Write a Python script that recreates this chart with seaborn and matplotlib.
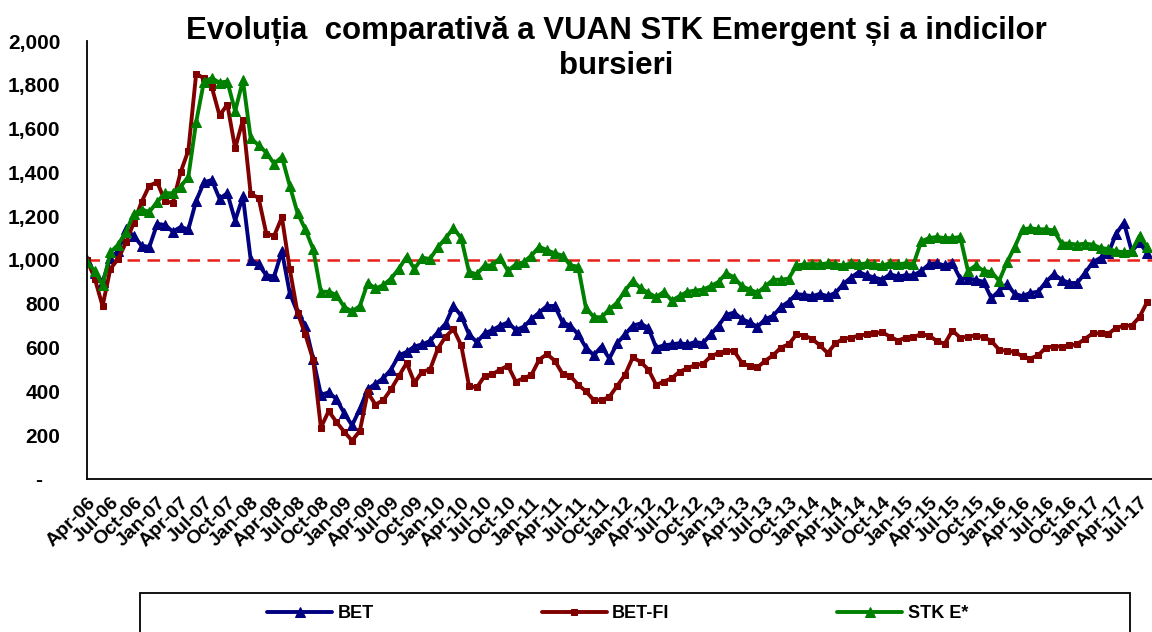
import matplotlib
matplotlib.use("Agg")
from matplotlib import pyplot as plt
from matplotlib.patches import Rectangle
from matplotlib.ticker import FuncFormatter
import pandas as pd
import seaborn as sns

# valori lunare, Apr-06 ... Aug-17
bet = [1000, 940, 900, 1010, 1040, 1140, 1110, 1065, 1060, 1165, 1160, 1130,
       1150, 1140, 1270, 1355, 1365, 1280, 1305, 1180, 1290, 1000, 980, 930,
       925, 1040, 850, 760, 700, 550, 385, 395, 365, 300, 245, 320,
       410, 435, 460, 500, 565, 580, 605, 615, 630, 670, 710, 790,
       745, 660, 625, 665, 680, 700, 715, 680, 695, 730, 760, 790,
       790, 715, 700, 660, 600, 565, 605, 550, 620, 660, 700, 710,
       690, 600, 610, 615, 620, 615, 625, 620, 660, 700, 750, 760,
       730, 715, 695, 730, 745, 785, 810, 845, 840, 835, 845, 835,
       850, 890, 920, 945, 930, 920, 910, 935, 925, 930, 930, 950,
       980, 985, 975, 985, 915, 915, 910, 900, 825, 860, 890, 845,
       835, 850, 855, 900, 935, 910, 895, 895, 940, 990, 1010, 1030,
       1120, 1170, 1040, 1080, 1030]

bet_fi = [1000, 915, 790, 960, 1005, 1080, 1170, 1265, 1340, 1355, 1270, 1260,
          1400, 1500, 1850, 1830, 1790, 1660, 1710, 1510, 1640, 1300, 1285, 1120,
          1110, 1195, 960, 760, 660, 545, 235, 310, 260, 215, 175, 220,
          395, 340, 360, 410, 470, 530, 440, 490, 500, 595, 650, 685,
          610, 425, 418, 470, 478, 500, 517, 445, 460, 475, 545, 570,
          540, 480, 470, 430, 400, 360, 360, 375, 425, 475, 555, 535,
          500, 430, 445, 460, 490, 505, 520, 525, 560, 575, 585, 585,
          530, 515, 510, 540, 565, 600, 615, 660, 655, 640, 610, 575,
          620, 640, 645, 655, 660, 665, 670, 650, 632, 645, 650, 660,
          655, 630, 617, 678, 645, 650, 655, 648, 630, 590, 585, 580,
          560, 550, 565, 600, 605, 605, 610, 615, 640, 665, 665, 663,
          690, 700, 700, 740, 810]

stk_e = [990, 950, 885, 1035, 1070, 1130, 1210, 1230, 1220, 1265, 1305, 1305,
         1335, 1380, 1630, 1815, 1830, 1810, 1815, 1680, 1820, 1555, 1525, 1490,
         1440, 1470, 1340, 1215, 1140, 1050, 855, 855, 840, 785, 765, 790,
         895, 870, 885, 915, 960, 1015, 960, 1010, 1005, 1058, 1100, 1145,
         1100, 945, 935, 975, 975, 1010, 950, 980, 990, 1020, 1060, 1045,
         1030, 1020, 975, 970, 780, 740, 738, 775, 805, 860, 905, 870,
         850, 830, 855, 815, 835, 855, 860, 865, 880, 900, 940, 920,
         880, 865, 850, 880, 910, 910, 915, 975, 980, 982, 980, 985,
         980, 975, 985, 980, 985, 980, 975, 985, 980, 985, 980, 1085,
         1100, 1105, 1100, 1100, 1105, 950, 975, 950, 945, 905, 990, 1060,
         1140, 1145, 1140, 1140, 1135, 1075, 1075, 1070, 1075, 1070, 1055, 1050,
         1040, 1035, 1040, 1110, 1060]

etichete = ["Apr-06", "Jul-06", "Oct-06", "Jan-07", "Apr-07", "Jul-07", "Oct-07",
            "Jan-08", "Apr-08", "Jul-08", "Oct-08", "Jan-09", "Apr-09", "Jul-09",
            "Oct-09", "Jan-10", "Apr-10", "Jul-10", "Oct-10", "Jan-11", "Apr-11",
            "Jul-11", "Oct-11", "Jan-12", "Apr-12", "Jul-12", "Oct-12", "Jan-13",
            "Apr-13", "Jul-13", "Oct-13", "Jan-14", "Apr-14", "Jul-14", "Oct-14",
            "Jan-15", "Apr-15", "Jul-15", "Oct-15", "Jan-16", "Apr-16", "Jul-16",
            "Oct-16", "Jan-17", "Apr-17", "Jul-17"]

df = pd.DataFrame({"luna": range(len(bet)), "BET": bet, "BET-FI": bet_fi, "STK E*": stk_e})

sns.set_style("white")
plt.rcParams["font.family"] = ["Liberation Sans", "DejaVu Sans"]
plt.rcParams["text.color"] = "black"
plt.rcParams["xtick.color"] = "black"
plt.rcParams["ytick.color"] = "black"

fig = plt.figure(figsize=(11.52, 6.32), dpi=100)
ax = fig.add_axes([87 / 1152, 1 - 479 / 632, 1 - 87 / 1152, (479 - 41) / 632])

stil = {"BET": ("#000080", "^", 6.5),
        "BET-FI": ("#800000", "s", 4.8),
        "STK E*": ("#008000", "^", 6.5)}
for nume, (culoare, marker, ms) in stil.items():
    sns.lineplot(data=df, x="luna", y=nume, ax=ax, color=culoare, marker=marker,
                 markersize=ms, markeredgecolor=culoare, linewidth=2.8, label=nume,
                 legend=False)

ax.axhline(1000, color="#e8201a", linestyle=(0, (5, 3)), linewidth=1.8, zorder=1)

ax.set_xlim(0, 136.6)
ax.set_ylim(0, 2000)
ax.set_yticks(range(0, 2001, 200))
ax.yaxis.set_major_formatter(FuncFormatter(lambda v, p: "-   " if v == 0 else f"{int(v):,}"))
ax.set_xticks(range(0, 3 * len(etichete), 3))
ax.set_xticklabels(etichete, rotation=45, ha="right", rotation_mode="anchor")
ax.set_xlabel("")
ax.set_ylabel("")

for s in ["top", "right"]:
    ax.spines[s].set_visible(False)
for s in ["left", "bottom"]:
    ax.spines[s].set_color("black")
    ax.spines[s].set_linewidth(1.3)
ax.tick_params(axis="both", direction="out", length=6, width=1.1)
ax.tick_params(axis="y", labelsize=15, pad=13)
ax.tick_params(axis="x", labelsize=14, pad=5)
for t in ax.get_xticklabels() + ax.get_yticklabels():
    t.set_fontweight("bold")

fig.text(616 / 1152, 1 - 16 / 632,
         "Evoluția  comparativă a VUAN STK Emergent și a indicilor\nbursieri",
         ha="center", va="top", fontsize=22.5, fontweight="bold", linespacing=1.2)

# chenarul legendei (marginea de jos iese din imagine)
fig.patches.append(Rectangle((140 / 1152, -0.02), 990 / 1152, 39 / 632 + 0.02,
                             transform=fig.transFigure, fill=False,
                             edgecolor="black", linewidth=1.3))

h, l = ax.get_legend_handles_labels()
fig.legend(h, l, loc="center left", ncol=3, frameon=False, borderpad=0,
           bbox_to_anchor=(258 / 1152, 1 - 614 / 632), handlelength=3.6,
           handletextpad=0.3, columnspacing=9.3,
           prop={"weight": "bold", "size": 13})

fig.savefig("out.png", dpi=100)
